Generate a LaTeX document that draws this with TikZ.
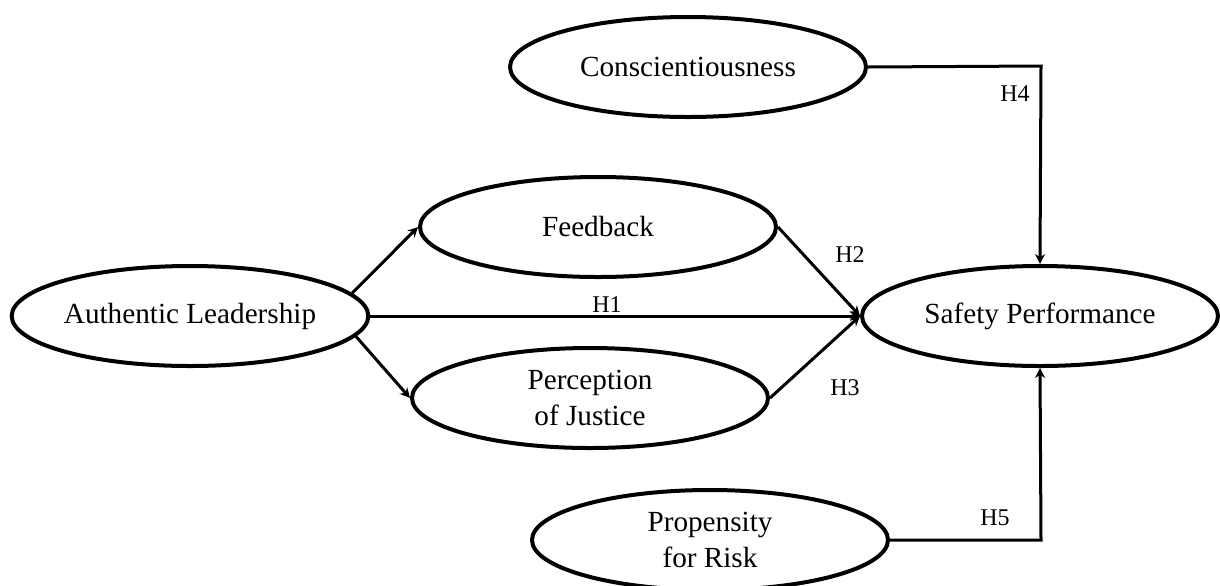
\documentclass[tikz,border=0pt]{standalone}
\usepackage{fontspec}
\setmainfont{Liberation Serif}
\usetikzlibrary{shapes.geometric,arrows.meta}
\tikzset{
  construct/.style={draw, ellipse, line width=2pt, minimum width=178pt, minimum height=50pt, inner sep=0pt, align=center, font=\fontsize{14.6}{18.4}\selectfont},
  path/.style={line width=1.5pt, -{Stealth[length=5pt,width=5pt]}},
  hlab/.style={font=\fontsize{12}{14}\selectfont, inner sep=0pt}
}
\begin{document}
\begin{tikzpicture}[x=0.5pt,y=-0.5pt]
\useasboundingbox (0,0) rectangle (1220,585);
\node[construct] (C) at (688,67) {Conscientiousness};
\node[construct] (F) at (598,227) {Feedback};
\node[construct] (A) at (190,316) {\raisebox{-2.5pt}{Authentic Leadership}};
\node[construct] (S) at (1040,316) {Safety Performance};
\node[construct] (P) at (590,398) {Perception\\of Justice};
\node[construct] (R) at (710,540) {Propensity\\for Risk};
\coordinate (c4) at (1041,66);
\coordinate (c5) at (1041,540);
\draw[path] (A.8) -- (F.west);
\draw[path] (A.-7) -- (P.west);
\draw[path] (A.east) -- (S.west);
\draw[path] (F.east) -- (S.west);
\draw[path] (P.east) -- (S.west);
\draw[path] (C.east) -- (c4) -- (S.north);
\draw[path] (R.east) -- (c5) -- (S.south);
\node[hlab] (h1) at (607,305) {H1};
\node[hlab] (h2) at (850,255) {H2};
\node[hlab] (h3) at (845,388) {H3};
\node[hlab] (h4) at (1015,94) {H4};
\node[hlab] (h5) at (995,518) {H5};
\end{tikzpicture}
\end{document}
